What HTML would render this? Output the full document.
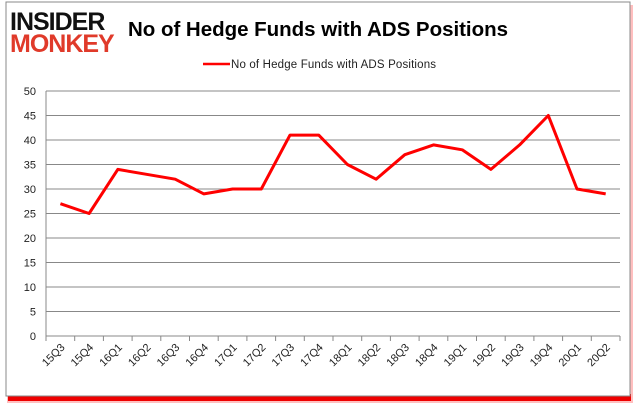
<!DOCTYPE html><html><head><style>body{margin:0;background:#fff}svg{display:block;font-family:"Liberation Sans",sans-serif}</style></head><body>
<svg width="637" height="408" xmlns="http://www.w3.org/2000/svg">
<rect x="7" y="5" width="626" height="398" fill="#f00" opacity="0.25"/>
<rect x="8" y="394" width="623" height="7" fill="#e00"/>
<rect x="6" y="2" width="624" height="394" fill="#fff" stroke="#888" stroke-width="1"/>
<text x="10" y="30" font-size="25" font-weight="bold" fill="#111" letter-spacing="-1">INSIDER</text>
<text x="10" y="52" font-size="25" font-weight="bold" fill="#e03a2a" letter-spacing="-1">MONKEY</text>
<text x="128" y="36" font-size="20.5" font-weight="bold" fill="#000" textLength="380">No of Hedge Funds with ADS Positions</text>
<line x1="203" y1="64" x2="230" y2="64" stroke="#f00" stroke-width="2.5"/>
<text x="231" y="68" font-size="11.5" fill="#222" textLength="205">No of Hedge Funds with ADS Positions</text>
<g stroke="#888" stroke-width="1">
<line x1="46" y1="91" x2="620" y2="91"/><line x1="46" y1="115.5" x2="620" y2="115.5"/><line x1="46" y1="140" x2="620" y2="140"/><line x1="46" y1="164.5" x2="620" y2="164.5"/><line x1="46" y1="189" x2="620" y2="189"/><line x1="46" y1="213.5" x2="620" y2="213.5"/><line x1="46" y1="238" x2="620" y2="238"/><line x1="46" y1="262.5" x2="620" y2="262.5"/><line x1="46" y1="287" x2="620" y2="287"/><line x1="46" y1="311.5" x2="620" y2="311.5"/><line x1="46" y1="336" x2="620" y2="336"/>
<line x1="46" y1="91" x2="46" y2="336"/>
</g>
<g font-size="11" fill="#222" text-anchor="end">
<text x="36" y="95">50</text><text x="36" y="119.5">45</text><text x="36" y="144">40</text><text x="36" y="168.5">35</text><text x="36" y="193">30</text><text x="36" y="217.5">25</text><text x="36" y="242">20</text><text x="36" y="266.5">15</text><text x="36" y="291">10</text><text x="36" y="315.5">5</text><text x="36" y="340">0</text>
</g>
<g id="t" stroke="#888"></g>
<polyline fill="none" stroke="#f00" stroke-width="3" stroke-linejoin="round" points="60.4,203.7 89.1,213.5 117.8,169.4 146.5,174.3 175.2,179.2 203.9,193.9 232.6,189 261.3,189 290,135.1 318.7,135.1 347.4,164.5 376.1,179.2 404.8,154.7 433.5,144.9 462.2,149.8 490.9,169.4 519.6,144.9 548.3,115.5 577,189 605.7,193.9"/>
<g font-size="11" fill="#222" id="xl"></g>
<script>
var l="15Q3 15Q4 16Q1 16Q2 16Q3 16Q4 17Q1 17Q2 17Q3 17Q4 18Q1 18Q2 18Q3 18Q4 19Q1 19Q2 19Q3 19Q4 20Q1 20Q2".split(" ");
var t=document.getElementById("t"),x=document.getElementById("xl"),ns="http://www.w3.org/2000/svg";
for(var i=0;i<=20;i++){var e=document.createElementNS(ns,"line");var xx=46+i*28.7;e.setAttribute("x1",xx);e.setAttribute("x2",xx);e.setAttribute("y1",336);e.setAttribute("y2",341);t.appendChild(e);}
for(var i=0;i<20;i++){var c=60.4+i*28.7+5;var s=document.createElementNS(ns,"text");s.setAttribute("text-anchor","end");s.setAttribute("transform","translate("+c+",348) rotate(-45)");s.textContent=l[i];x.appendChild(s);}
</script>
</svg></body></html>
